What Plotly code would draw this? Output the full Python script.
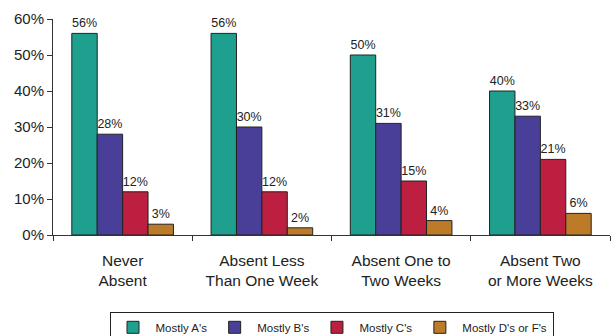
import plotly.graph_objects as go

categories = ["Never<br>Absent", "Absent Less<br>Than One Week", "Absent One to<br>Two Weeks", "Absent Two<br>or More Weeks"]
series_names = ["Mostly A's", "Mostly B's", "Mostly C's", "Mostly D's or F's"]
mostly_a = [56, 56, 50, 40]
mostly_b = [28, 30, 31, 33]
mostly_c = [12, 12, 15, 21]
mostly_df = [3, 2, 4, 6]
colors = ["#1fa08f", "#4a3f98", "#bc1f40", "#bd7b2a"]
y_ticks = [0, 10, 20, 30, 40, 50, 60]
y_tick_labels = ["0%", "10%", "20%", "30%", "40%", "50%", "60%"]

fig = go.Figure()
for name, vals, col in zip(series_names, [mostly_a, mostly_b, mostly_c, mostly_df], colors):
    fig.add_trace(go.Bar(
        x=categories, y=vals, name=name,
        marker=dict(color=col, line=dict(color="#222222", width=1)),
        text=[f"{v}%" for v in vals], textposition="outside",
        textfont=dict(family="Liberation Sans, Arial", size=12.5, color="#222222"),
        cliponaxis=False,
    ))

fig.update_layout(
    width=611, height=336,
    margin=dict(l=53, r=1, t=19, b=101, autoexpand=False),
    paper_bgcolor="white", plot_bgcolor="white",
    barmode="group", bargap=0.27, bargroupgap=0,
    font=dict(family="Liberation Sans, Arial", color="#222222"),
    showlegend=True,
    legend=dict(
        orientation="h", x=0.5, xanchor="center",
        yref="container", y=0.072, yanchor="top",
        bordercolor="#222222", borderwidth=1,
        font=dict(size=11.5, color="#222222"),
        itemwidth=35,
        tracegroupgap=0,
    ),
    xaxis=dict(
        showline=True, linecolor="#333333", linewidth=1,
        ticks="outside", tickson="boundaries", ticklen=5, tickcolor="#333333",
        tickfont=dict(size=15.5, color="#222222"), showgrid=False,
        ticklabelstandoff=11, automargin=False,
    ),
    yaxis=dict(
        range=[0, 60], tickvals=y_ticks, ticktext=y_tick_labels,
        showline=True, linecolor="#333333", linewidth=1,
        ticks="outside", ticklen=5, tickcolor="#333333",
        tickfont=dict(size=15, color="#222222"), showgrid=False, zeroline=False,
        automargin=False,
    ),
)

fig.write_html("out.html")
